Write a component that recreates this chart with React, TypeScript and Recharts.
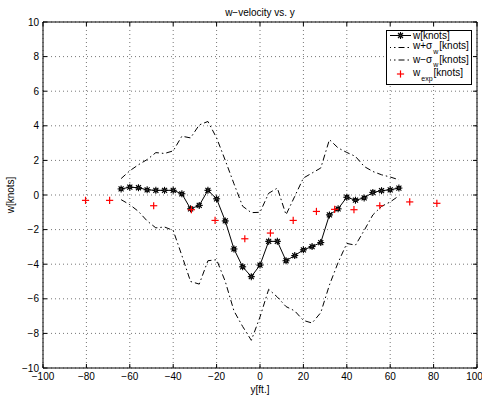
import React from 'react';
import {
  ComposedChart, Line, Scatter, XAxis, YAxis, CartesianGrid, ReferenceLine, ReferenceArea,
} from 'recharts';

// Positions along span y [ft.]
const yPos = [-64, -60, -56, -52, -48, -44, -40, -36, -32, -28, -24, -20, -16, -12, -8, -4, 0, 4, 8, 12, 16, 20, 24, 28, 32, 36, 40, 44, 48, 52, 56, 60, 64];
// w [knots]
const wVals = [0.35, 0.45, 0.42, 0.3, 0.27, 0.27, 0.27, 0.07, -0.8, -0.6, 0.27, -0.22, -1.5, -3.12, -4.15, -4.72, -4.05, -2.68, -2.68, -3.8, -3.5, -3.17, -2.98, -2.75, -1.15, -0.8, -0.13, -0.3, -0.17, 0.15, 0.25, 0.3, 0.4];
// w + sigma_w
const wPlus = [0.95, 1.4, 1.75, 2.05, 2.45, 2.4, 2.55, 3.4, 3.3, 4.05, 4.25, 3.3, 2.0, 0.65, -0.65, -1.02, -1.0, 0.1, 0.4, -1.14, -0.08, 0.98, 1.27, 1.56, 3.2, 2.72, 2.46, 2.23, 1.65, 1.36, 1.17, 1.04, 0.88];
// w - sigma_w
const wMinus = [-0.27, -0.56, -0.95, -1.5, -1.9, -1.85, -2.05, -3.5, -5.0, -5.15, -3.8, -3.74, -5.0, -6.7, -7.6, -8.4, -7.05, -5.45, -5.9, -6.45, -6.7, -7.25, -7.4, -6.8, -5.2, -3.9, -2.8, -2.9, -2.05, -1.15, -0.66, -0.4, -0.05];
// experimental
const expPos = [-80.4, -69.3, -49, -31.6, -20.7, -7, 4.8, 15.3, 26, 34.4, 43.3, 55.2, 69, 81.5];
const expVals = [-0.31, -0.31, -0.62, -0.85, -1.47, -2.53, -2.2, -1.47, -0.95, -0.83, -0.85, -0.62, -0.4, -0.48];

const xTicks = [-100, -80, -60, -40, -20, 0, 20, 40, 60, 80, 100];
const yTicks = [-10, -8, -6, -4, -2, 0, 2, 4, 6, 8, 10];

const rows = yPos.map((x, i) => ({ x, w: wVals[i], up: wPlus[i], lo: wMinus[i] }));
const expRows = expPos.map((x, i) => ({ x, e: expVals[i] }));

const FONT = '"Liberation Sans", Arial, Helvetica, sans-serif';
const DASHDOT = '6 3 1.5 3';
const fmt = (v: number) => (v < 0 ? '\u2212' + Math.abs(v) : String(v));

const W = 482;
const H = 396;
const M = { top: 22, right: 5, left: 0, bottom: 0 };
const Y_AXIS_W = 43;
const X_AXIS_H = 28;
const plotW = W - M.left - M.right - Y_AXIS_W;
const plotH = H - M.top - M.bottom - X_AXIS_H;
const TICK_PX = 4;
const tx = (TICK_PX * (xTicks[xTicks.length - 1] - xTicks[0])) / plotW;
const ty = (TICK_PX * (yTicks[yTicks.length - 1] - yTicks[0])) / plotH;
const X0 = xTicks[0], X1 = xTicks[xTicks.length - 1];
const Y0 = yTicks[0], Y1 = yTicks[yTicks.length - 1];

const Star = (p: any) => {
  const { cx, cy } = p;
  if (cx == null || cy == null) return null;
  const r = 3.5;
  const d = r * 0.72;
  return (
    <g stroke="#000" strokeWidth={1.1}>
      <line x1={cx - r} y1={cy} x2={cx + r} y2={cy} />
      <line x1={cx} y1={cy - r} x2={cx} y2={cy + r} />
      <line x1={cx - d} y1={cy - d} x2={cx + d} y2={cy + d} />
      <line x1={cx - d} y1={cy + d} x2={cx + d} y2={cy - d} />
      <circle cx={cx} cy={cy} r={1.6} fill="#333" />
    </g>
  );
};

const Plus = (p: any) => {
  const { cx, cy } = p;
  if (cx == null || cy == null) return null;
  const r = 3.6;
  return (
    <g stroke="#ff0000" strokeWidth={1.2}>
      <line x1={cx - r} y1={cy} x2={cx + r} y2={cy} />
      <line x1={cx} y1={cy - r} x2={cx} y2={cy + r} />
    </g>
  );
};

const LegendBox = () => {
  const tx0 = 26;
  return (
    <svg width={84} height={53} style={{ display: 'block', position: 'absolute', left: 0, top: 0 }}>
      <line x1={3} y1={4.5} x2={24} y2={4.5} stroke="#000" />
      <Star cx={13.5} cy={4.5} />
      <text x={tx0} y={7.5} fontFamily={FONT} fontSize={10} fill="#000">w[knots]</text>

      <line x1={3} y1={16.5} x2={24} y2={16.5} stroke="#000" strokeDasharray={DASHDOT} strokeDashoffset={5} />
      <text x={tx0} y={18} fontFamily={FONT} fontSize={10} fill="#000">
        w+σ<tspan fontSize={7} dy={4.5} dx={1}>w</tspan><tspan fontSize={10} dy={-4.5} dx={1}>[knots]</tspan>
      </text>

      <line x1={3} y1={29} x2={24} y2={29} stroke="#000" strokeDasharray={DASHDOT} strokeDashoffset={5} />
      <text x={tx0} y={31.5} fontFamily={FONT} fontSize={10} fill="#000">
        w−σ<tspan fontSize={7} dy={4.5} dx={1}>w</tspan><tspan fontSize={10} dy={-4.5} dx={1}>[knots]</tspan>
      </text>

      <Plus cx={13.5} cy={43} />
      <text x={tx0} y={44.5} fontFamily={FONT} fontSize={10} fill="#000">
        w<tspan fontSize={7} dy={5} dx={1}>exp</tspan><tspan fontSize={10} dy={-5} dx={1}>[knots]</tspan>
      </text>
    </svg>
  );
};

export default function App() {
  return (
    <div style={{ position: 'fixed', left: 0, top: 0, width: W, height: H, background: '#fff' }}>
      <div
        style={{
          position: 'absolute', left: M.left + Y_AXIS_W, width: plotW, top: 7, textAlign: 'center',
          fontFamily: FONT, fontSize: 10, lineHeight: '12px', color: '#000',
        }}
      >
        w−velocity vs. y
      </div>
      <ComposedChart width={W} height={H} data={rows} margin={M}>
        <CartesianGrid stroke="#777" strokeDasharray="1 3" />
        <XAxis
          dataKey="x" type="number" domain={[X0, X1]} ticks={xTicks} allowDataOverflow
          height={X_AXIS_H} tickSize={0} tickMargin={5} axisLine={false} tickLine={false}
          tickFormatter={fmt} tick={{ fontFamily: FONT, fontSize: 10, fill: '#000' }}
          label={(p: any) => {
            const vb = p.viewBox || {};
            return (
              <text x={vb.x + vb.width / 2} y={H - 3} textAnchor="middle" fontFamily={FONT} fontSize={10} fill="#000">
                y[ft.]
              </text>
            );
          }}
        />
        <YAxis
          type="number" domain={[Y0, Y1]} ticks={yTicks} allowDataOverflow width={Y_AXIS_W}
          tickSize={0} tickMargin={4} axisLine={false} tickLine={false}
          tickFormatter={fmt} tick={{ fontFamily: FONT, fontSize: 10, fill: '#000' }}
          label={(p: any) => {
            const vb = p.viewBox || {};
            const cx = 10;
            const cy = vb.y + vb.height / 2;
            return (
              <text x={cx} y={cy} transform={`rotate(-90 ${cx} ${cy})`} textAnchor="middle" dominantBaseline="central" fontFamily={FONT} fontSize={10} fill="#000">
                w[knots]
              </text>
            );
          }}
        />
        <ReferenceArea x1={X0} x2={X1} y1={Y0} y2={Y1} fill="none" stroke="#000" strokeWidth={1} fillOpacity={0} />
        {xTicks.map((t) => (
          <ReferenceLine key={'xb' + t} segment={[{ x: t, y: Y0 }, { x: t, y: Y0 + ty }]} stroke="#000" />
        ))}
        {xTicks.map((t) => (
          <ReferenceLine key={'xt' + t} segment={[{ x: t, y: Y1 }, { x: t, y: Y1 - ty }]} stroke="#000" />
        ))}
        {yTicks.map((t) => (
          <ReferenceLine key={'yl' + t} segment={[{ x: X0, y: t }, { x: X0 + tx, y: t }]} stroke="#000" />
        ))}
        {yTicks.map((t) => (
          <ReferenceLine key={'yr' + t} segment={[{ x: X1, y: t }, { x: X1 - tx, y: t }]} stroke="#000" />
        ))}
        <Line dataKey="w" stroke="#000" strokeWidth={1} dot={<Star />} activeDot={false} isAnimationActive={false} />
        <Line dataKey="up" stroke="#000" strokeWidth={1} strokeDasharray={DASHDOT} dot={false} activeDot={false} isAnimationActive={false} />
        <Line dataKey="lo" stroke="#000" strokeWidth={1} strokeDasharray={DASHDOT} dot={false} activeDot={false} isAnimationActive={false} />
        <Scatter data={expRows} dataKey="e" shape={<Plus />} isAnimationActive={false} />
      </ComposedChart>
      <div
        style={{
          position: 'absolute', left: 386, top: 30, width: 84, height: 53, zIndex: 5,
          border: '1px solid #000', background: '#fff', boxSizing: 'content-box',
        }}
      >
        <LegendBox />
      </div>
    </div>
  );
}
